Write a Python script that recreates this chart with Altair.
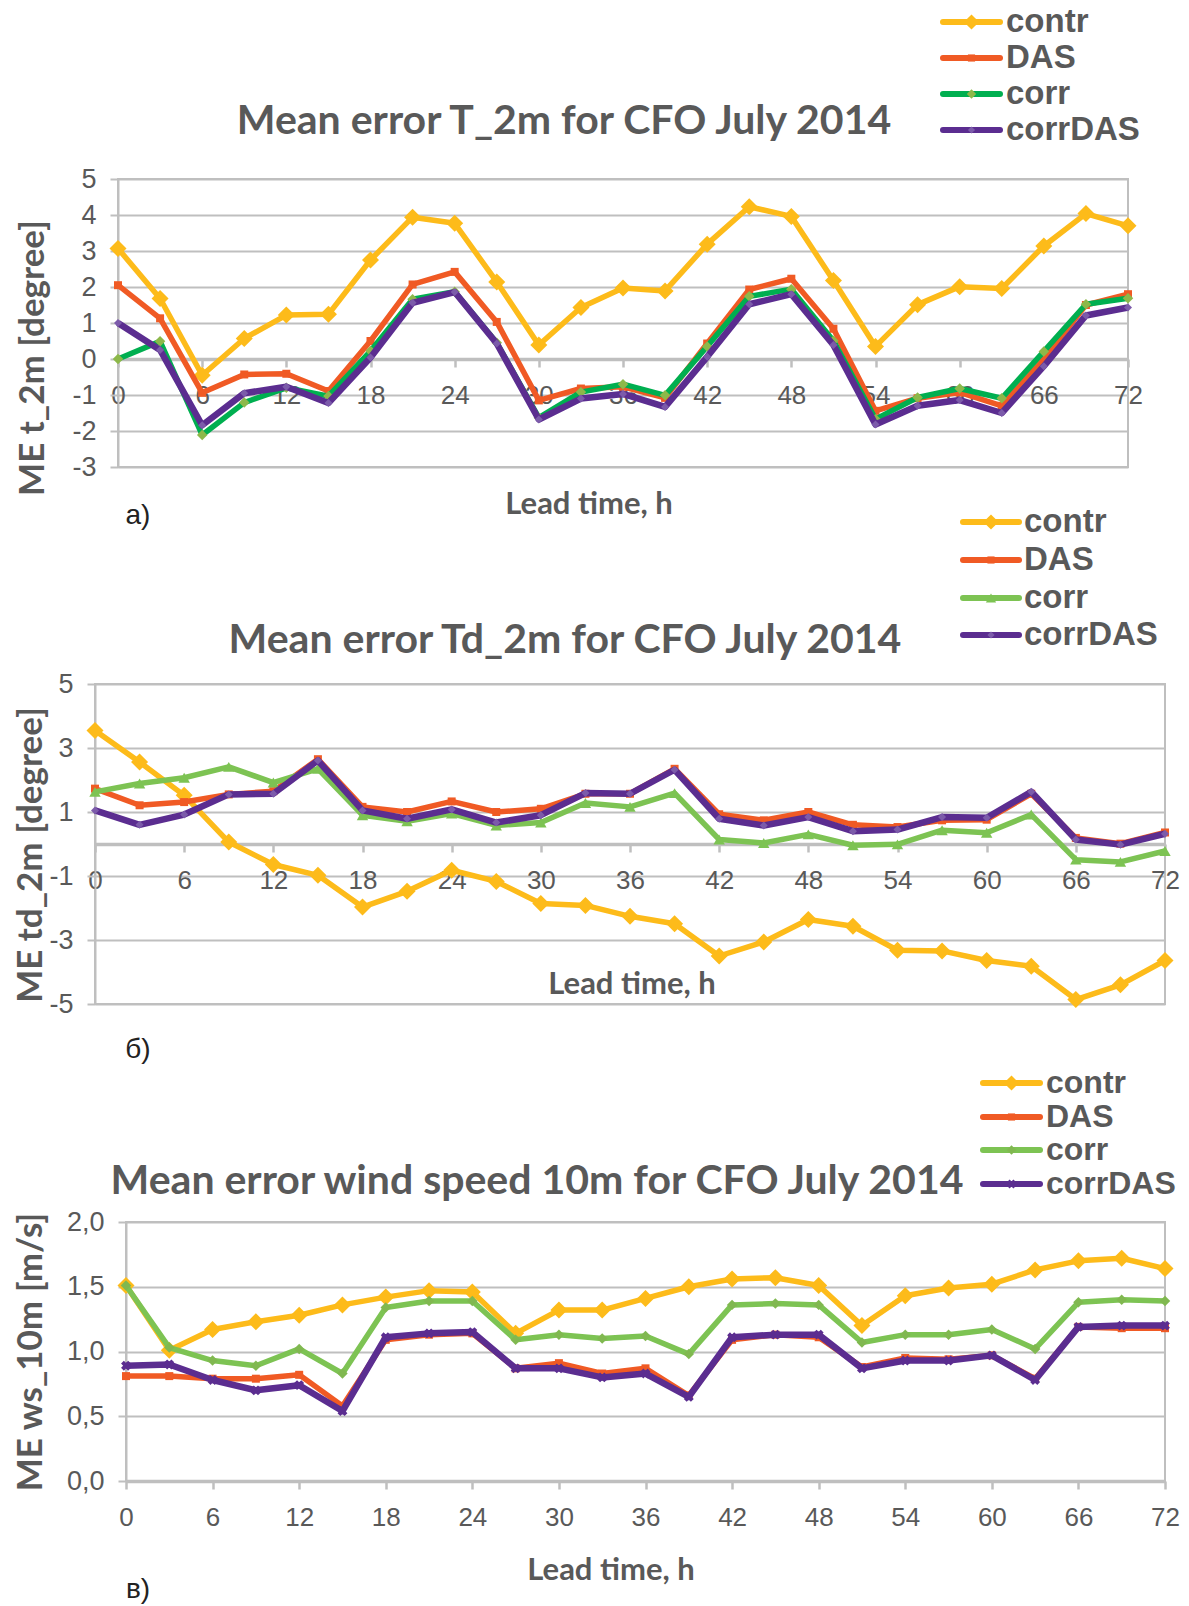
import altair as alt
import pandas as pd

# ---------------- data ----------------
hours = [0, 3, 6, 9, 12, 15, 18, 21, 24, 27, 30, 33, 36, 39, 42, 45, 48, 51, 54, 57, 60, 63, 66, 69, 72]
x_ticks = [0, 6, 12, 18, 24, 30, 36, 42, 48, 54, 60, 66, 72]
series_names = ["contr", "DAS", "corr", "corrDAS"]

# panel a: T_2m
t2m_contr = [3.07, 1.68, -0.45, 0.57, 1.22, 1.24, 2.75, 3.94, 3.77, 2.14, 0.39, 1.43, 1.97,
             1.89, 3.19, 4.23, 3.96, 2.18, 0.35, 1.51, 2.01, 1.96, 3.14, 4.04, 3.70]
t2m_das = [2.05, 1.13, -0.94, -0.43, -0.41, -0.89, 0.50, 2.07, 2.42, 1.03, -1.15, -0.82, -0.77,
           -1.08, 0.43, 1.93, 2.23, 0.84, -1.44, -1.09, -0.93, -1.30, 0.00, 1.50, 1.80]
t2m_corr = [0.00, 0.49, -2.11, -1.21, -0.80, -1.03, 0.22, 1.66, 1.87, 0.45, -1.63, -0.92, -0.70,
            -1.01, 0.35, 1.74, 1.94, 0.51, -1.67, -1.07, -0.82, -1.09, 0.21, 1.52, 1.69]
t2m_corrdas = [1.00, 0.25, -1.84, -0.95, -0.77, -1.22, 0.04, 1.56, 1.86, 0.43, -1.68, -1.10, -0.97,
               -1.33, 0.06, 1.52, 1.80, 0.39, -1.82, -1.30, -1.14, -1.50, -0.20, 1.21, 1.43]
t2m_yticks = [-3, -2, -1, 0, 1, 2, 3, 4, 5]

# panel b: Td_2m
td_contr = [3.55, 2.56, 1.52, 0.06, -0.64, -0.98, -1.97, -1.48, -0.82, -1.17, -1.86, -1.92, -2.26,
            -2.49, -3.50, -3.06, -2.36, -2.57, -3.32, -3.34, -3.64, -3.82, -4.86, -4.40, -3.64]
td_das = [1.73, 1.21, 1.31, 1.55, 1.65, 2.65, 1.16, 1.00, 1.33, 1.00, 1.10, 1.57, 1.57,
          2.35, 0.93, 0.74, 1.00, 0.60, 0.53, 0.74, 0.76, 1.57, 0.19, 0.01, 0.36]
td_corr = [1.63, 1.89, 2.07, 2.41, 1.92, 2.35, 0.90, 0.71, 0.95, 0.58, 0.67, 1.28, 1.16,
           1.59, 0.14, 0.03, 0.30, -0.04, -0.01, 0.43, 0.35, 0.92, -0.49, -0.56, -0.22]
td_corrdas = [1.05, 0.60, 0.92, 1.55, 1.57, 2.61, 1.05, 0.79, 1.08, 0.67, 0.90, 1.59, 1.57,
              2.32, 0.79, 0.58, 0.84, 0.40, 0.45, 0.84, 0.82, 1.63, 0.14, -0.02, 0.32]
td_yticks = [-5, -3, -1, 1, 3, 5]

# panel c: wind speed 10m
ws_contr = [1.51, 1.01, 1.17, 1.23, 1.28, 1.36, 1.42, 1.47, 1.46, 1.14, 1.32, 1.32, 1.41,
            1.50, 1.56, 1.57, 1.51, 1.20, 1.43, 1.49, 1.52, 1.63, 1.70, 1.72, 1.64]
ws_das = [0.81, 0.81, 0.79, 0.79, 0.82, 0.58, 1.09, 1.13, 1.14, 0.87, 0.91, 0.83, 0.87,
          0.66, 1.09, 1.13, 1.11, 0.88, 0.95, 0.94, 0.97, 0.79, 1.19, 1.18, 1.18]
ws_corr = [1.51, 1.03, 0.93, 0.89, 1.02, 0.83, 1.34, 1.39, 1.39, 1.09, 1.13, 1.10, 1.12,
           0.98, 1.36, 1.37, 1.36, 1.07, 1.13, 1.13, 1.17, 1.02, 1.38, 1.40, 1.39]
ws_corrdas = [0.89, 0.90, 0.78, 0.70, 0.74, 0.54, 1.11, 1.14, 1.15, 0.87, 0.87, 0.80, 0.83,
              0.65, 1.11, 1.13, 1.13, 0.87, 0.93, 0.93, 0.97, 0.78, 1.19, 1.20, 1.20]
ws_yticks = [0.0, 0.5, 1.0, 1.5, 2.0]

# ---------------- styles ----------------
TXT = "#595959"
GRID = "#BFBFBF"
NARROW = "Liberation Sans Narrow, Arial Narrow, Liberation Sans, Arial"
SANS = "Liberation Sans, Arial"
TITLEF = "Lato, Open Sans, sans-serif"

YELLOW = "#FDBB1A"
ORANGE = "#F05A24"
GREEN_A = "#00AF50"
GREEN = "#7DC353"
PURPLE = "#5B2D90"

styles_a = [
    dict(line=YELLOW, w=5.5, shape="diamond", size=289, mc=YELLOW),
    dict(line=ORANGE, w=5.5, shape="square", size=64, mc=ORANGE),
    dict(line=GREEN_A, w=5.5, shape="diamond", size=110, mc="#8DB84A"),
    dict(line=PURPLE, w=6.5, shape="diamond", size=64, mc="#7C5BAA"),
]
styles_b = [
    dict(line=YELLOW, w=5.5, shape="diamond", size=289, mc=YELLOW),
    dict(line=ORANGE, w=5.5, shape="square", size=64, mc=ORANGE),
    dict(line=GREEN, w=5.5, shape="triangle-up", size=130, mc=GREEN),
    dict(line=PURPLE, w=6.5, shape="diamond", size=64, mc="#7C5BAA"),
]
styles_c = [
    dict(line=YELLOW, w=5.5, shape="diamond", size=289, mc=YELLOW),
    dict(line=ORANGE, w=5.5, shape="square", size=64, mc=ORANGE),
    dict(line=GREEN, w=5.5, shape="diamond", size=110, mc="#80B850"),
    dict(line=PURPLE, w=6.5, shape="cross", size=100, mc=PURPLE, angle=45),
]

one = pd.DataFrame({"k": [0]})


def text_layer(text, x, y, size, font, weight, color, angle=0, align="center"):
    kw = dict(text=text, fontSize=size, font=font, fontWeight=weight, color=color,
              align=align, baseline="middle")
    if angle:
        kw["angle"] = angle
    return alt.Chart(one).mark_text(**kw).encode(x=alt.value(x), y=alt.value(y))


def make_panel(vals, styles, ydom, yticks, W, H, xoff, ylab_expr,
               title, tpos, ytitle, ytpos, xtpos, sub, subpos, legpos, legfont=33):
    xenc = alt.X("hour:Q",
                 scale=alt.Scale(domain=[0, 72], nice=False, zero=False),
                 axis=alt.Axis(values=x_ticks, format="d", labelFont=NARROW, labelFontSize=26,
                               labelColor=TXT, labelPadding=15, tickSize=8, tickWidth=2.5,
                               tickColor=GRID, domainColor=GRID, domainWidth=3.5, grid=False,
                               offset=xoff, title="", labelOverlap=False, labelFlush=False))
    yenc = alt.Y("value:Q",
                 scale=alt.Scale(domain=ydom, nice=False, zero=False),
                 axis=alt.Axis(values=yticks, labelExpr=ylab_expr, labelFont=NARROW,
                               labelFontSize=27, labelColor=TXT, labelPadding=14, tickSize=8,
                               tickWidth=2, tickColor=GRID, domainColor=GRID, domainWidth=2,
                               gridColor=GRID, gridWidth=2, title="", labelOverlap=False))
    layers = []
    for name, v, st in zip(series_names, vals, styles):
        df = pd.DataFrame({"hour": hours, "value": v, "series": name})
        base = alt.Chart(df)
        layers.append(base.mark_line(color=st["line"], strokeWidth=st["w"],
                                     strokeJoin="round").encode(x=xenc, y=yenc))
        pk = dict(filled=True, shape=st["shape"], size=st["size"], color=st["mc"], opacity=1)
        if st.get("angle"):
            pk["angle"] = st["angle"]
        layers.append(base.mark_point(**pk).encode(x=xenc, y=yenc))

    # titles and labels
    layers.append(text_layer(title, tpos[0], tpos[1], 41, TITLEF, "bold", TXT))
    layers.append(text_layer(ytitle, ytpos[0], ytpos[1], 35, TITLEF, "bold", TXT, angle=270))
    layers.append(text_layer("Lead time, h", xtpos[0], xtpos[1], 31, TITLEF, "bold", TXT))
    layers.append(text_layer(sub, subpos[0], subpos[1], 28, SANS, "normal", "#222222"))

    # legend
    lx0, lx1, tx, ys = legpos
    for name, st, yy in zip(series_names, styles, ys):
        layers.append(alt.Chart(one).mark_rule(color=st["line"], strokeWidth=6, strokeCap="round")
                      .encode(x=alt.value(lx0), x2=alt.value(lx1), y=alt.value(yy)))
        pk = dict(filled=True, shape=st["shape"], size=st["size"] * 0.8, color=st["mc"], opacity=1)
        if st.get("angle"):
            pk["angle"] = st["angle"]
        layers.append(alt.Chart(one).mark_point(**pk)
                      .encode(x=alt.value((lx0 + lx1) / 2), y=alt.value(yy)))
        layers.append(text_layer(name, tx, yy, legfont, SANS, "bold", TXT, align="left"))

    return alt.layer(*layers).properties(width=W, height=H)


int_expr = "'' + datum.value"
comma_expr = "replace(format(datum.value, '.1f'), '.', ',')"

panel_a = make_panel([t2m_contr, t2m_das, t2m_corr, t2m_corrdas], styles_a, [-3, 5], t2m_yticks,
                     1010, 288, -108, int_expr,
                     "Mean error T_2m for CFO July 2014", (446, -57),
                     "ME t_2m [degree]", (-85, 179), (471, 326),
                     "а)", (20, 337),
                     (825, 882, 888, [-157, -121, -85, -49]))

panel_b = make_panel([td_contr, td_das, td_corr, td_corrdas], styles_b, [-5, 5], td_yticks,
                     1070, 320, -160, int_expr,
                     "Mean error Td_2m for CFO July 2014", (470, -43),
                     "ME td_2m [degree]", (-64, 171), (537, 301),
                     "б)", (43, 366),
                     (868, 924, 929, [-162, -124, -86, -49]))

panel_c = make_panel([ws_contr, ws_das, ws_corr, ws_corrdas], styles_c, [0, 2], ws_yticks,
                     1039, 259, 0, comma_expr,
                     "Mean error wind speed 10m for CFO July 2014", (411, -40),
                     "ME ws_10m [m/s]", (-95, 130), (485, 349),
                     "в)", (12, 368),
                     (857, 914, 920, [-139, -105, -72, -38]), legfont=32)


def spacer(w, h):
    return (alt.Chart(one).mark_point(opacity=0)
            .encode(x=alt.value(0), y=alt.value(0))
            .properties(width=w, height=h, view=alt.ViewBackground(stroke="transparent")))


row_a = alt.hconcat(spacer(23, 288), panel_a, spacing=0, bounds="flush")
row_c = alt.hconcat(spacer(31, 259), panel_c, spacing=0, bounds="flush")

chart = (alt.vconcat(row_a, spacer(1, 505), panel_b, spacer(1, 218), row_c,
                     spacing=0, bounds="flush")
         .properties(padding={"left": 4, "top": -3, "right": 0, "bottom": 0},
                     background="white")
         .configure_view(stroke=GRID, strokeWidth=2))

chart.save("out.html", embed_options={"renderer": "svg", "actions": False})
